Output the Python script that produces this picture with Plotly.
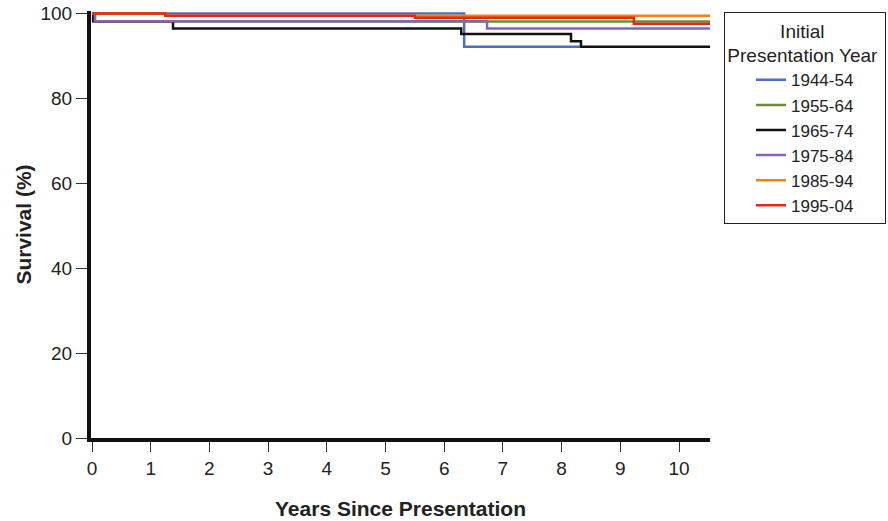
import plotly.graph_objects as go

# Kaplan-Meier style step data (years, survival %)
series_names = ["1944-54", "1955-64", "1965-74", "1975-84", "1985-94", "1995-04"]
colors = ["#4a6fc4", "#6f8a3c", "#111111", "#8a62b2", "#f5820f", "#dd2a1a"]

t_1944 = [0, 6.34, 8.31]
s_1944 = [100, 92.2, 92.2]

t_1955 = [0, 0.05, 10.53]
s_1955 = [100, 98.1, 98.1]

t_1965 = [0, 0.02, 1.38, 6.29, 8.16, 8.33, 10.53]
s_1965 = [100, 98.2, 96.5, 95.2, 93.5, 92.2, 92.2]

t_1975 = [0, 0.05, 6.73, 10.53]
s_1975 = [100, 98.2, 96.5, 96.5]

t_1985 = [0, 1.25, 10.53]
s_1985 = [100, 99.5, 99.5]

t_1995 = [0, 1.25, 5.5, 9.23, 10.53]
s_1995 = [100, 99.5, 99.0, 97.6, 97.6]

times = [t_1944, t_1955, t_1965, t_1975, t_1985, t_1995]
survs = [s_1944, s_1955, s_1965, s_1975, s_1985, s_1995]

x_ticks = list(range(0, 11))
y_ticks = [0, 20, 40, 60, 80, 100]

FONT = "Liberation Sans, Arial, Helvetica, sans-serif"
TXT = "#222222"

fig = go.Figure()
for name, c, t, s in zip(series_names, colors, times, survs):
    fig.add_trace(go.Scatter(x=t, y=s, mode="lines", name=name,
                             line=dict(color=c, width=2.5, shape="hv")))

fig.update_layout(
    width=888, height=521,
    margin=dict(l=91, r=178, t=11, b=83, autoexpand=False),
    paper_bgcolor="white", plot_bgcolor="white",
    font=dict(family=FONT, size=19, color=TXT),
    showlegend=True,
    legend=dict(
        x=1.0226, y=0.998, xanchor="left", yanchor="top",
        bordercolor=TXT, borderwidth=1,
        font=dict(size=17, color=TXT),
        title=dict(text="&nbsp;" * 10 + "Initial<br>Presentation Year&nbsp;", side="top center",
                   font=dict(size=19, color=TXT)),
        tracegroupgap=0, itemwidth=30, indentation=26,
    ),
    xaxis=dict(
        range=[-0.017, 10.528], tickvals=x_ticks, ticks="outside", ticklen=10,
        tickwidth=1, tickcolor="#333333", showgrid=False, zeroline=False,
        showline=True, linecolor="#111111", linewidth=4, automargin=False,
        tickfont=dict(size=19),
        title=dict(text="<b>Years Since Presentation</b>", font=dict(size=21), standoff=25),
    ),
    yaxis=dict(
        range=[0, 100.6], tickvals=y_ticks, ticks="outside", ticklen=11,
        tickwidth=1, tickcolor="#333333", showgrid=False, zeroline=False,
        showline=True, linecolor="#111111", linewidth=4, automargin=False,
        tickfont=dict(size=19),
        title=dict(text="<b>Survival (%)</b>", font=dict(size=21), standoff=4),
    ),
)

fig.write_html("out.html", config={"displayModeBar": False},
               post_script="document.body.style.margin='0';")
